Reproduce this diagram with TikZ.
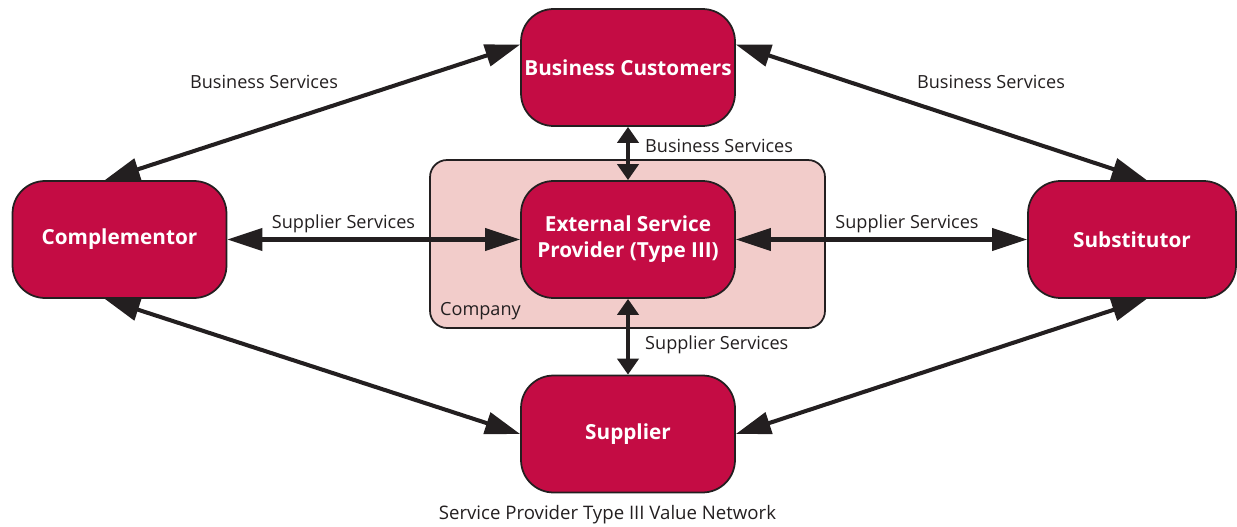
\documentclass[tikz,border=0pt]{standalone}
\usepackage{fontspec}
\setmainfont{Open Sans}
\usetikzlibrary{positioning,arrows.meta}
\definecolor{crimson}{HTML}{C40C44}
\definecolor{blush}{HTML}{F2CCCA}
\definecolor{ink}{HTML}{231F20}

\begin{document}
\begin{tikzpicture}[x=0.02cm,y=-0.02cm,every node/.style={font=\fontsize{10.3}{12}\selectfont,text=ink}]
      \tikzstyle{actor}=[rectangle,rounded corners=0.65cm,draw=ink,line width=1pt,fill=crimson,
                         minimum width=4.28cm,minimum height=2.34cm,inner sep=0pt,align=center,
                         text=white,font=\fontsize{11.8}{14.7}\selectfont\bfseries];
      \tikzstyle{link}=[{Triangle[length=0.7cm,width=0.44cm]}-{Triangle[length=0.7cm,width=0.44cm]},ink,line width=2.3pt];
      \tikzstyle{short}=[{Triangle[length=0.32cm,width=0.42cm]}-{Triangle[length=0.32cm,width=0.42cm]},ink,line width=2.3pt];
      \useasboundingbox (0,0) rectangle (1237,527);
      \node[rectangle,rounded corners=0.34cm,draw=ink,line width=1pt,fill=blush,
            minimum width=7.9cm,minimum height=3.36cm] (co) at (627.5,244) {};
      \node[anchor=west] (colbl) at (434,311) {Company};
      \node[actor] (bc)  at (628,67.5)  {Business Customers};
      \node[actor] (cmp) at (119.5,239.5) {Complementor};
      \node[actor] (esp) at (628,239.5) {External Service\\Provider (Type III)};
      \node[actor,minimum width=4.16cm] (sub) at (1132,239.5) {Substitutor};
      \node[actor] (sup) at (628,434)   {Supplier};
      \draw[link] (cmp.104) -- (bc.168);  \draw[link] (bc.12) -- (sub.76);
      \draw[link] (cmp.256) -- (sup.west); \draw[link] (sub.284) -- (sup.east);
      \draw[link] (cmp) -- (esp);          \draw[link] (esp) -- (sub);
      \draw[short] (bc) -- (esp);          \draw[short] (esp) -- (sup);
      \node (bs1) at (264,82)  {Business Services};
      \node (bs2) at (991,82)  {Business Services};
      \node[anchor=west] (bs3) at (639,146) {Business Services};
      \node (ss1) at (343.5,224) {Supplier Services};
      \node (ss2) at (907,224)   {Supplier Services};
      \node[anchor=west] (ss3) at (639,345) {Supplier Services};
      \node[font=\fontsize{10.6}{12}\selectfont] (cap) at (607.5,515) {Service Provider Type III Value Network};
    \end{tikzpicture}
\end{document}
